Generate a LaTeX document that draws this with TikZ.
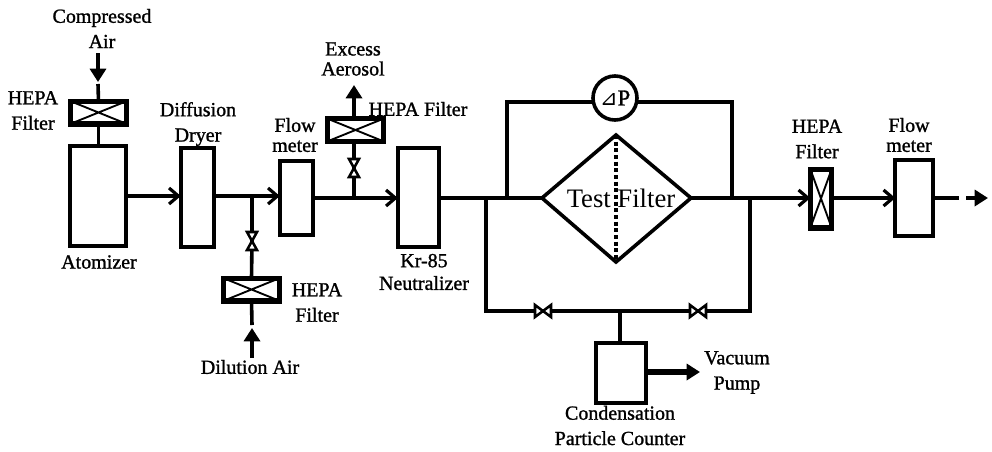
\documentclass[tikz,border=0pt]{standalone}
\usepackage{fontspec}
\setmainfont[FakeBold=1.2]{Liberation Serif}
\newfontfamily\plainserif{Liberation Serif}
\newfontfamily\symfont{DejaVu Sans}
\usetikzlibrary{arrows.meta,calc}
\tikzset{
  x=0.75pt,y=-0.75pt,
  unitbox/.style={draw,line width=3pt,fill=white,inner sep=0pt,outer sep=0pt},
  hepabox/.style={draw,line width=4pt,fill=white,inner sep=0pt,outer sep=0pt},
  pipe/.style={line width=2.7pt},
  flowarrow/.style={line width=2.7pt,-{Straight Barb[length=7pt,width=12pt,line width=2.4pt]}},
  bigarrow/.style={line width=3.2pt,-{Triangle[length=10pt,width=12pt]}},
  crossing/.style={line width=1.4pt},
  valveshape/.style={draw,line width=1.9pt,fill=white},
  lab/.style={align=center,inner sep=0pt,font=\fontsize{15}{19}\selectfont},
  labtight/.style={align=center,inner sep=0pt,font=\fontsize{15}{15}\selectfont},
  labmid/.style={align=center,inner sep=0pt,font=\fontsize{15}{17}\selectfont},
}
\newcommand{\hepacross}[1]{\draw[crossing] (#1.north west)--(#1.south east) (#1.north east)--(#1.south west);}
\newcommand{\vvalve}[1]{\draw[valveshape] ($(#1)+(-5,-9)$)--($(#1)+(5,-9)$)--($(#1)+(-5,9)$)--($(#1)+(5,9)$)--cycle;}
\newcommand{\hvalve}[1]{\draw[valveshape] ($(#1)+(-8,-6)$)--($(#1)+(-8,6)$)--($(#1)+(8,-6)$)--($(#1)+(8,6)$)--cycle;}
\begin{document}
\begin{tikzpicture}
\useasboundingbox (0,0) rectangle (992,451);
% row levels
\coordinate (rowA) at (0,196);
\coordinate (rowB) at (0,198);
% free ends and junctions
\coordinate (caTop) at (98,53);
\coordinate (caEnd) at (98,82);
\coordinate (h1stub) at (98,84);
\coordinate (j1) at (252,196);
\coordinate (v1) at (252,241);
\coordinate (daTop) at (252,325);
\coordinate (daFrom) at (252,358);
\coordinate (daTip) at (252,328);
\coordinate (j2) at (354,198);
\coordinate (v2) at (354,168);
\coordinate (eaTip) at (354,85);
\coordinate (j3) at (486,198);
\coordinate (j4) at (507,198);
\coordinate (j5) at (732,198);
\coordinate (j6) at (750,198);
\coordinate (c1) at (486,311);
\coordinate (c2) at (750,311);
\coordinate (c3) at (620,311);
\coordinate (v3) at (543,311);
\coordinate (v4) at (698,311);
\coordinate (d1) at (507,102);
\coordinate (d2) at (732,102);
\coordinate (out1) at (959,198);
\coordinate (out2) at (966,198);
\coordinate (out3) at (988,198);
\coordinate (vp) at (700,372);
\coordinate (dL) at (542,198);
\coordinate (dR) at (691,198);
\coordinate (dT) at (616,135);
\coordinate (dB) at (616,262);
% pipes that run under boxes
\draw[pipe] (j4)--(d1)--(d2)--(j5);
% boxes
\node[unitbox,minimum width=42pt,minimum height=75pt] (atom) at (98,196) {};
\node[unitbox,minimum width=25pt,minimum height=74pt] (dryer) at (197.5,197.5) {};
\node[unitbox,minimum width=25pt,minimum height=55pt] (fm1) at (296.5,198) {};
\node[unitbox,minimum width=31pt,minimum height=74pt] (kr) at (418.5,197.5) {};
\node[unitbox,minimum width=28pt,minimum height=57pt] (fm2) at (914,198) {};
\node[unitbox,minimum width=38pt,minimum height=45pt] (cpc) at (621,372.5) {};
\node[hepabox,minimum width=42pt,minimum height=17pt] (h1) at (98.5,112.5) {};
\node[hepabox,minimum width=42pt,minimum height=17pt] (h2) at (251.5,289.5) {};
\node[hepabox,minimum width=42pt,minimum height=17pt] (h3) at (355.5,130) {};
\node[hepabox,minimum width=16pt,minimum height=44pt] (h4) at (821,198.5) {};
% test filter
\node[circle,draw,line width=2.7pt,fill=white,inner sep=0pt,minimum width=33pt] (dp) at (615,98) {};
\draw[line width=2.7pt,line join=miter] (dL)--(dT)--(dR)--(dB)--cycle;
\draw[line width=3pt,dotted] (dT)--(dB);
\node[inner sep=0pt,font=\plainserif\fontsize{20}{22}\selectfont] (tf) at (621,198) {Test Filter};
\node[inner sep=0pt,font=\fontsize{17}{18}\selectfont] (dptext) at (dp) {{\symfont\fontsize{16}{15}\selectfont ⊿}P};
% hepa crosses
\hepacross{h1}\hepacross{h2}\hepacross{h3}\hepacross{h4}
% connectors
\draw[bigarrow] (caTop)--(caEnd);
\draw[pipe] (h1stub)--(h1.north);
\draw[pipe] (h1.south)--(atom.north-|h1.south);
\draw[flowarrow] (atom.east|-rowA)--(dryer.west|-rowA);
\draw[flowarrow] (dryer.east|-rowA)--(fm1.west|-rowA);
\draw[pipe] (j1)--(v1) (v1)--(h2.north);
\vvalve{v1}
\draw[pipe] (h2.south)--(daTop);
\draw[bigarrow] (daFrom)--(daTip);
\draw[flowarrow] (fm1.east|-rowB)--(kr.west|-rowB);
\draw[pipe] (j2)--(v2) (v2)--(h3.south-|v2);
\vvalve{v2}
\draw[bigarrow] (h3.north-|eaTip)--(eaTip);
\draw[pipe] (kr.east|-rowB)--(dL);
\draw[pipe] (j3)--(c1)--(c2)--(j6);
\hvalve{v3}\hvalve{v4}
\draw[pipe] (c3)--(cpc.north-|c3);
\draw[flowarrow] (dR)--(h4.west|-rowB);
\draw[flowarrow] (h4.east|-rowB)--(fm2.west|-rowB);
\draw[pipe] (fm2.east|-rowB)--(out1);
\draw[bigarrow] (out2)--(out3);
\draw[line width=3.8pt,-{Triangle[length=10pt,width=12pt]}] (cpc.east|-vp)--(vp);
% labels
\node[lab] (l1) at (102,28.5) {Compressed\\Air};
\node[lab] (l2) at (33,110.5) {HEPA\\Filter};
\node[lab] (l3) at (198,124) {Diffusion\\Dryer};
\node[labtight] (l4) at (295,135) {Flow\\meter};
\node[lab] (l5) at (99,262) {Atomizer};
\node[labtight] (l6) at (353,59) {Excess\\Aerosol};
\node[lab] (l7) at (418,109) {HEPA Filter};
\node[lab] (l8) at (317,302.5) {HEPA\\Filter};
\node[lab] (l9) at (250,367) {Dilution Air};
\node[labmid] (l10) at (424,272) {Kr-85\\Neutralizer};
\node[lab] (l11) at (737,372.5) {Vacuum\\Pump};
\node[lab] (l12) at (620,425.5) {Condensation\\Particle Counter};
\node[lab] (l13) at (817,139) {HEPA\\Filter};
\node[labtight] (l14) at (909,135) {Flow\\meter};
\end{tikzpicture}
\end{document}
